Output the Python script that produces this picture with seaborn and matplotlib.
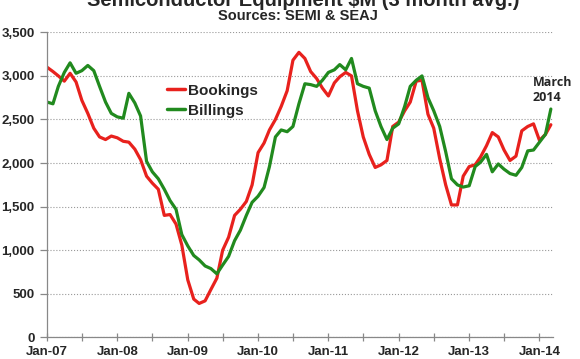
import pandas as pd
import numpy as np
import seaborn as sns
import matplotlib.pyplot as plt
import matplotlib.dates as mdates
from matplotlib.ticker import FuncFormatter, MultipleLocator

# monthly values, Jan-07 .. Mar-14
months = pd.date_range("2007-01-01", periods=87, freq="MS")

bookings = [3100, 3050, 3000, 2940, 3030, 2930, 2720, 2570, 2400, 2300,
            2270, 2310, 2290, 2250, 2240, 2160, 2040, 1850, 1770, 1700,
            1400, 1410, 1300, 1060, 660, 440, 390, 420, 550, 680,
            1000, 1150, 1400, 1470, 1560, 1750, 2120, 2230, 2380, 2500,
            2650, 2830, 3180, 3270, 3200, 3050, 2970, 2860, 2770, 2920,
            2990, 3040, 3000, 2600, 2300, 2100, 1950, 1980, 2030, 2420,
            2470, 2600, 2700, 2940, 2950, 2560, 2400, 2050, 1750, 1520,
            1520, 1850, 1960, 1980, 2070, 2200, 2350, 2300, 2150, 2030,
            2080, 2370, 2420, 2450, 2260, 2330, 2440]

billings = [2700, 2680, 2880, 3040, 3150, 3030, 3060, 3120, 3060, 2880,
            2700, 2570, 2530, 2515, 2800, 2690, 2540, 2020, 1900, 1820,
            1700, 1570, 1470, 1180, 1050, 940, 890, 820, 790, 730,
            830, 930, 1110, 1230, 1400, 1550, 1620, 1720, 1960, 2300,
            2380, 2360, 2420, 2680, 2910, 2900, 2880, 2950, 3040, 3070,
            3130, 3070, 3200, 2910, 2880, 2860, 2600, 2420, 2270, 2400,
            2450, 2650, 2880, 2950, 3000, 2750, 2600, 2420, 2130, 1820,
            1750, 1725, 1740, 1960, 2010, 2100, 1900, 1990, 1930, 1880,
            1860, 1950, 2140, 2150, 2240, 2330, 2620]

series_names = ["Bookings", "Billings"]
colors = {"Bookings": "#e8211d", "Billings": "#218a1e"}

df = pd.DataFrame({"month": list(months) * 2,
                   "value": bookings + billings,
                   "series": ["Bookings"] * len(bookings) + ["Billings"] * len(billings)})

sns.set_style("white")
plt.rcParams["font.family"] = ["Liberation Sans", "DejaVu Sans"]

fig = plt.figure(figsize=(5.8, 3.59), dpi=100)
ax = fig.add_axes([0.081, 0.06, 0.8724, 0.85])

sns.lineplot(data=df, x="month", y="value", hue="series", hue_order=series_names,
             palette=colors, linewidth=2.3, ax=ax)

ax.set_xlim(pd.Timestamp("2007-01-01"), pd.Timestamp("2014-03-12"))
ax.set_ylim(0, 3500)
ax.set_xlabel("")
ax.set_ylabel("")

ax.yaxis.set_major_locator(MultipleLocator(500))
ax.yaxis.set_major_formatter(FuncFormatter(lambda v, p: f"{int(v):,}"))
ax.xaxis.set_major_locator(mdates.YearLocator())
ax.xaxis.set_minor_locator(mdates.MonthLocator(bymonth=7))
ax.xaxis.set_major_formatter(mdates.DateFormatter("%b-%y"))

ax.grid(axis="y", color="#999999", linestyle=":", linewidth=0.8)
for s in ["top", "right"]:
    ax.spines[s].set_visible(False)
for s in ["left", "bottom"]:
    ax.spines[s].set_color("#888888")
    ax.spines[s].set_linewidth(0.9)

ax.tick_params(axis="y", which="major", left=True, direction="out", length=5,
               width=0.9, color="#888888", pad=4, labelsize=9.5)
ax.tick_params(axis="x", which="both", bottom=True, direction="inout", length=6,
               width=0.9, color="#888888", pad=3, labelsize=9.5)
for lab in ax.get_xticklabels() + ax.get_yticklabels():
    lab.set_fontweight("bold")

leg = ax.legend(loc="upper left", bbox_to_anchor=(0.225, 0.852), frameon=False,
                handlelength=1.2, handletextpad=0.15, labelspacing=0.4,
                borderaxespad=0, prop={"weight": "bold", "size": 11})
for line in leg.get_lines():
    line.set_linewidth(2.5)

ax.text(0.96, 0.811, "March\n2014", transform=ax.transAxes, ha="left", va="center",
        fontsize=9, fontweight="bold", family=["Open Sans", "DejaVu Sans"], linespacing=1.15)

fig.text(0.522, 0.998, "Semiconductor Equipment \\$M (3 month avg.)", ha="center",
         va="center", fontsize=14.5, fontweight="bold")
fig.text(0.513, 0.955, "Sources: SEMI & SEAJ", ha="center", va="center",
         fontsize=10.5, fontweight="bold")

fig.savefig("out.png", dpi=100)
